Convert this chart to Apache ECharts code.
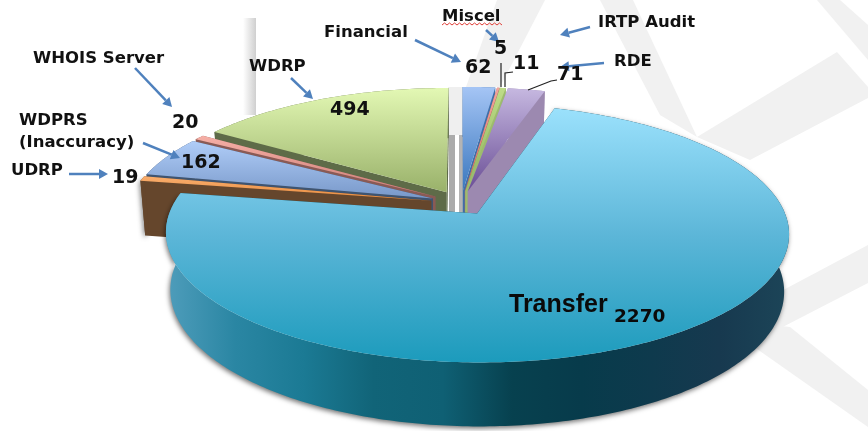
<!DOCTYPE html>
<html><head><meta charset="utf-8">
<style>html,body{margin:0;padding:0;background:#fff}#c{width:868px;height:431px;filter:blur(0.45px)}</style>
<script src="https://cdn.jsdelivr.net/npm/echarts@6/dist/echarts.min.js"></script>
</head><body><div id="c"></div>
<script>
// ---- data (clockwise from 12 o'clock) ----
const sliceNames  = ['Financial','Miscel','IRTP Audit','RDE','Transfer','UDRP','WDPRS','WHOIS Server','WDRP'];
const sliceValues = [62,5,11,71,2270,19,162,20,494];
// ---- style ----
const paintOrder = ['WDRP','WHOIS Server','WDPRS','UDRP','Financial','Miscel','IRTP Audit','RDE','Transfer'];
const faceColors = {
  'Financial':['#A5C5F5','#3A77BE'],'Miscel':['#F0A49C','#D9706A'],'IRTP Audit':['#BEDC88','#8FB35C'],
  'RDE':['#C6B8E0','#6A4E96'],'Transfer':['#9BE1FC','#5CB6D8','#1C9BBC'],'UDRP':['#F9AE6E','#E88A3C'],
  'WDPRS':['#B0CDF8','#7898C9'],'WHOIS Server':['#F6AFA6','#C97C74'],'WDRP':['#E3F8B4','#99B16A']
};
const wallColors = {
  'Financial':['#3F6FA8'],'Miscel':['#B5605A'],'IRTP Audit':['#9DBB6E'],'RDE':['#9C89B0'],
  'Transfer':['#4F9DBB','#2A86A3','#1B7A94','#116478','#0F6074','#07414F','#073B4B','#0E3A4D','#17394F','#1C4558'],
  'UDRP':['#65462C'],'WDPRS':['#3F5470'],'WHOIS Server':['#8A5A55'],'WDRP':['#5E6B48']
};
// projection of the (tilted) disc on the page
const view = {ox:461, oy:203, a:304, b:123, k:0.15, explode:0.1, depth:56, depthSlope:0.05, shrink:0.985};

const total = sliceValues.reduce((s,v)=>s+v,0);
let run = 0;
const spans = sliceValues.map(v=>{const s=run; run+=v; return [s/total*2*Math.PI, run/total*2*Math.PI];});
function project(u,v){const d=1+view.k*v; return [view.ox+view.a*u/d, view.oy-view.b*v/d];}
function drop(p){return [view.ox+(p[0]-view.ox)*view.shrink, p[1]+view.depth+view.depthSlope*(p[1]-view.oy)];}

function renderSlice(params, api){
  const i = api.value(0), name = sliceNames[i], s = spans[i][0], e = spans[i][1], mid=(s+e)/2;
  const ou = view.explode*Math.sin(mid), ov = view.explode*Math.cos(mid);
  const apex = project(ou,ov), arc=[];
  const n = Math.max(2, Math.ceil((e-s)/0.015));
  for(let j=0;j<=n;j++){const t=s+(e-s)*j/n; arc.push(project(ou+Math.sin(t),ov+Math.cos(t)));}
  const bottomArc = arc.map(drop), ba = drop(apex);
  const fc = faceColors[name], wc = wallColors[name];
  const stops = c=>c.map((col,k)=>({offset:c.length>1?k/(c.length-1):0,color:col}));
  const faceFill = {type:'linear',x:0,y:0,x2:0,y2:1,colorStops:stops(fc)};
  const wallFill = wc.length>1?{type:'linear',x:0,y:0,x2:1,y2:0,colorStops:stops(wc)}:wc[0];
  const shade = (name==='Transfer'||name==='UDRP')?{shadowBlur:5,shadowOffsetY:2,shadowOffsetX:-1,shadowColor:'rgba(0,0,0,0.55)'}:{};
  const poly = (pts,style)=>({type:'polygon',shape:{points:pts},style:Object.assign({lineWidth:0},style)});
  const solid = wc.length>1?wc[5]:wc[0];
  return {type:'group',children:[
    poly(arc.concat(bottomArc.slice().reverse()),Object.assign({fill:wallFill},shade)),
    poly([apex,arc[0],bottomArc[0],ba],{fill:solid}),
    poly([apex,arc[n],bottomArc[n],ba],{fill:solid}),
    poly([apex].concat(arc),{fill:faceFill})
  ]};
}
const seriesData = paintOrder.map(nm=>{const i=sliceNames.indexOf(nm); return {name:nm,value:[i,sliceValues[i]]};});

// ---- annotation layout ----
const nameFont = '"DejaVu Sans"', valFont = '"DejaVu Sans"';
const nameSpots = [['Financial',324,33],['Miscel',442,17],['IRTP Audit',598,23],['RDE',614,62],['UDRP',11,171],
                   ['WDPRS',19,121],['WHOIS Server',33,59],['WDRP',249,67]];
const valueSpots = [['Financial',465,68],['Miscel',494,49],['IRTP Audit',513,64],['RDE',557,75],['UDRP',112,178],
                    ['WDPRS',181,163],['WHOIS Server',172,123],['WDRP',330,110]];
const arrows = [[135,68,172,107],[291,78,313,99],[415,40,461,62],[486,30,499,42],[590,27,560,35],[604,63,560,67],[143,143,180,158],[69,174,108,174]];
const leaders = [[[501,63],[501,87]],[[505,87],[505,73],[513,72]],[[528,90],[551,81],[557,80]]];
const bands = [
  [[697,137],[837,52],[868,87],[868,98],[750,160]],
  [[740,313],[868,245],[868,283],[740,349]],
  [[730,320],[790,327],[868,390],[868,427],[730,330]],
  [[817,0],[840,0],[868,25],[868,60]],
  [[600,0],[633,0],[697,137],[660,115]],
  [[497,0],[545,0],[500,87],[466,87]]
];
const graphics = [];
bands.forEach(b=>graphics.push({type:'polygon',z:-1,shape:{points:b},style:{fill:'#F1F1F1'}}));
graphics.push({type:'rect',z:-1,shape:{x:243,y:18,width:13,height:97},style:{fill:{type:'linear',x:0,y:0,x2:1,y2:0,colorStops:[{offset:0,color:'#fff'},{offset:1,color:'#CFCFCF'}]}}});
graphics.push({type:'rect',z:-1,shape:{x:448,y:87,width:17,height:48},style:{fill:'#EFEFEF'}});
graphics.push({type:'rect',z:-1,shape:{x:449,y:135,width:6,height:80},style:{fill:'#ABABAB'}});
graphics.push({type:'rect',z:-1,shape:{x:459,y:135,width:6,height:80},style:{fill:'#B4B4B4'}});
nameSpots.forEach(s=>graphics.push({type:'text',z:10,style:{text:s[0],x:s[1],y:s[2],font:'bold 16.5px '+nameFont,fill:'#111',verticalAlign:'middle'}}));
graphics.push({type:'text',z:10,style:{text:'(Inaccuracy)',x:19,y:143,font:'bold 16.5px '+nameFont,fill:'#111',verticalAlign:'middle'}});
valueSpots.forEach(s=>graphics.push({type:'text',z:10,style:{text:String(sliceValues[sliceNames.indexOf(s[0])]),x:s[1],y:s[2],font:'bold 19px '+valFont,fill:'#111',verticalAlign:'middle'}}));
graphics.push({type:'text',z:10,style:{text:'Transfer',x:509,y:305,font:'bold 25px "Liberation Sans"',fill:'#0A0A0A',verticalAlign:'middle'}});
graphics.push({type:'text',z:10,style:{text:String(sliceValues[sliceNames.indexOf('Transfer')]),x:614,y:317,font:'bold 18.5px '+valFont,fill:'#0A0A0A',verticalAlign:'middle'}});
arrows.forEach(a=>{
  const ang=Math.atan2(a[3]-a[1],a[2]-a[0]), L=9, W=5;
  const bx=a[2]-L*Math.cos(ang), by=a[3]-L*Math.sin(ang), nx=-Math.sin(ang), ny=Math.cos(ang);
  graphics.push({type:'line',z:9,shape:{x1:a[0],y1:a[1],x2:bx,y2:by},style:{stroke:'#4F81BD',lineWidth:2.5}});
  graphics.push({type:'polygon',z:9,shape:{points:[[a[2],a[3]],[bx+nx*W,by+ny*W],[bx-nx*W,by-ny*W]]},style:{fill:'#4F81BD'}});
});
leaders.forEach(l=>graphics.push({type:'polyline',z:9,shape:{points:l},style:{stroke:'#222',lineWidth:1.2,fill:'none'}}));
const squiggle=[]; for(let x=442,j=0;x<=504;x+=2.5,j++) squiggle.push([x,j%2?23:25]);
graphics.push({type:'polyline',z:9,shape:{points:squiggle},style:{stroke:'#E0403A',lineWidth:1,fill:'none'}});

const chart = echarts.init(document.getElementById('c'),null,{renderer:'canvas'});
chart.setOption({
  animation:false, backgroundColor:'#fff', graphic:{elements:graphics},
  series:[{type:'custom',coordinateSystem:'none',renderItem:renderSlice,data:seriesData,silent:true,z:2}]
});
</script></body></html>
